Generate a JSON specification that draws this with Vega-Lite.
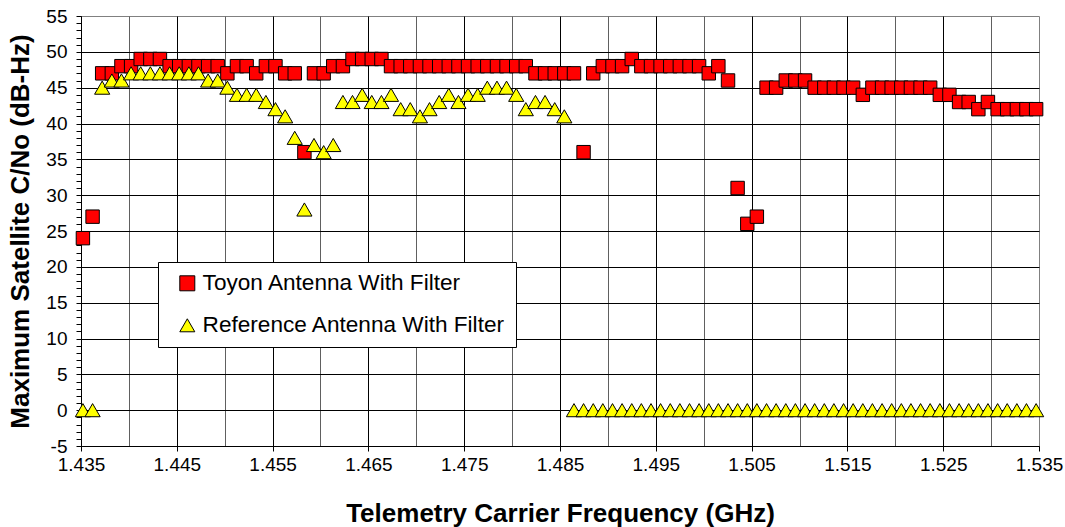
{
  "$schema": "https://vega.github.io/schema/vega-lite/v6.json",
  "width": 958,
  "height": 430,
  "autosize": "none",
  "padding": {"left": 81, "top": 16, "right": 26, "bottom": 81},
  "background": "white",
  "datasets": {
    "toyon": [
      {"f": 1.43520, "v": 24}, {"f": 1.43621, "v": 27}, {"f": 1.43721, "v": 47}, {"f": 1.43822, "v": 47}, {"f": 1.43922, "v": 48},
      {"f": 1.44023, "v": 48}, {"f": 1.44123, "v": 49}, {"f": 1.44224, "v": 49}, {"f": 1.44324, "v": 49}, {"f": 1.44425, "v": 48},
      {"f": 1.44525, "v": 48}, {"f": 1.44626, "v": 48}, {"f": 1.44726, "v": 48}, {"f": 1.44827, "v": 48}, {"f": 1.44927, "v": 48},
      {"f": 1.45028, "v": 47}, {"f": 1.45128, "v": 48}, {"f": 1.45229, "v": 48}, {"f": 1.45329, "v": 47}, {"f": 1.45430, "v": 48},
      {"f": 1.45530, "v": 48}, {"f": 1.45631, "v": 47}, {"f": 1.45731, "v": 47}, {"f": 1.45832, "v": 36}, {"f": 1.45932, "v": 47},
      {"f": 1.46033, "v": 47}, {"f": 1.46133, "v": 48}, {"f": 1.46234, "v": 48}, {"f": 1.46334, "v": 49}, {"f": 1.46435, "v": 49},
      {"f": 1.46535, "v": 49}, {"f": 1.46636, "v": 49}, {"f": 1.46736, "v": 48}, {"f": 1.46837, "v": 48}, {"f": 1.46937, "v": 48},
      {"f": 1.47038, "v": 48}, {"f": 1.47138, "v": 48}, {"f": 1.47239, "v": 48}, {"f": 1.47339, "v": 48}, {"f": 1.47440, "v": 48},
      {"f": 1.47540, "v": 48}, {"f": 1.47641, "v": 48}, {"f": 1.47741, "v": 48}, {"f": 1.47842, "v": 48}, {"f": 1.47942, "v": 48},
      {"f": 1.48043, "v": 48}, {"f": 1.48143, "v": 48}, {"f": 1.48244, "v": 47}, {"f": 1.48344, "v": 47}, {"f": 1.48445, "v": 47},
      {"f": 1.48545, "v": 47}, {"f": 1.48646, "v": 47}, {"f": 1.48746, "v": 36}, {"f": 1.48847, "v": 47}, {"f": 1.48947, "v": 48},
      {"f": 1.49048, "v": 48}, {"f": 1.49148, "v": 48}, {"f": 1.49249, "v": 49}, {"f": 1.49349, "v": 48}, {"f": 1.49450, "v": 48},
      {"f": 1.49550, "v": 48}, {"f": 1.49651, "v": 48}, {"f": 1.49751, "v": 48}, {"f": 1.49852, "v": 48}, {"f": 1.49952, "v": 48},
      {"f": 1.50053, "v": 47}, {"f": 1.50153, "v": 48}, {"f": 1.50254, "v": 46}, {"f": 1.50354, "v": 31}, {"f": 1.50455, "v": 26},
      {"f": 1.50555, "v": 27}, {"f": 1.50656, "v": 45}, {"f": 1.50756, "v": 45}, {"f": 1.50857, "v": 46}, {"f": 1.50957, "v": 46},
      {"f": 1.51058, "v": 46}, {"f": 1.51158, "v": 45}, {"f": 1.51259, "v": 45}, {"f": 1.51359, "v": 45}, {"f": 1.51460, "v": 45},
      {"f": 1.51560, "v": 45}, {"f": 1.51661, "v": 44}, {"f": 1.51761, "v": 45}, {"f": 1.51862, "v": 45}, {"f": 1.51962, "v": 45},
      {"f": 1.52063, "v": 45}, {"f": 1.52163, "v": 45}, {"f": 1.52264, "v": 45}, {"f": 1.52364, "v": 45}, {"f": 1.52465, "v": 44},
      {"f": 1.52565, "v": 44}, {"f": 1.52666, "v": 43}, {"f": 1.52766, "v": 43}, {"f": 1.52867, "v": 42}, {"f": 1.52967, "v": 43},
      {"f": 1.53068, "v": 42}, {"f": 1.53168, "v": 42}, {"f": 1.53269, "v": 42}, {"f": 1.53369, "v": 42}, {"f": 1.53470, "v": 42}
    ],
    "ref": [
      {"f": 1.43520, "v": 0}, {"f": 1.43621, "v": 0}, {"f": 1.43721, "v": 45}, {"f": 1.43822, "v": 46}, {"f": 1.43922, "v": 46},
      {"f": 1.44023, "v": 47}, {"f": 1.44123, "v": 47}, {"f": 1.44224, "v": 47}, {"f": 1.44324, "v": 47}, {"f": 1.44425, "v": 47},
      {"f": 1.44525, "v": 47}, {"f": 1.44626, "v": 47}, {"f": 1.44726, "v": 47}, {"f": 1.44827, "v": 46}, {"f": 1.44927, "v": 46},
      {"f": 1.45028, "v": 45}, {"f": 1.45128, "v": 44}, {"f": 1.45229, "v": 44}, {"f": 1.45329, "v": 44}, {"f": 1.45430, "v": 43},
      {"f": 1.45530, "v": 42}, {"f": 1.45631, "v": 41}, {"f": 1.45731, "v": 38}, {"f": 1.45832, "v": 28}, {"f": 1.45932, "v": 37},
      {"f": 1.46033, "v": 36}, {"f": 1.46133, "v": 37}, {"f": 1.46234, "v": 43}, {"f": 1.46334, "v": 43}, {"f": 1.46435, "v": 44},
      {"f": 1.46535, "v": 43}, {"f": 1.46636, "v": 43}, {"f": 1.46736, "v": 44}, {"f": 1.46837, "v": 42}, {"f": 1.46937, "v": 42},
      {"f": 1.47038, "v": 41}, {"f": 1.47138, "v": 42}, {"f": 1.47239, "v": 43}, {"f": 1.47339, "v": 44}, {"f": 1.47440, "v": 43},
      {"f": 1.47540, "v": 44}, {"f": 1.47641, "v": 44}, {"f": 1.47741, "v": 45}, {"f": 1.47842, "v": 45}, {"f": 1.47942, "v": 45},
      {"f": 1.48043, "v": 44}, {"f": 1.48143, "v": 42}, {"f": 1.48244, "v": 43}, {"f": 1.48344, "v": 43}, {"f": 1.48445, "v": 42},
      {"f": 1.48545, "v": 41}, {"f": 1.48646, "v": 0}, {"f": 1.48746, "v": 0}, {"f": 1.48847, "v": 0}, {"f": 1.48947, "v": 0},
      {"f": 1.49048, "v": 0}, {"f": 1.49148, "v": 0}, {"f": 1.49249, "v": 0}, {"f": 1.49349, "v": 0}, {"f": 1.49450, "v": 0},
      {"f": 1.49550, "v": 0}, {"f": 1.49651, "v": 0}, {"f": 1.49751, "v": 0}, {"f": 1.49852, "v": 0}, {"f": 1.49952, "v": 0},
      {"f": 1.50053, "v": 0}, {"f": 1.50153, "v": 0}, {"f": 1.50254, "v": 0}, {"f": 1.50354, "v": 0}, {"f": 1.50455, "v": 0},
      {"f": 1.50555, "v": 0}, {"f": 1.50656, "v": 0}, {"f": 1.50756, "v": 0}, {"f": 1.50857, "v": 0}, {"f": 1.50957, "v": 0},
      {"f": 1.51058, "v": 0}, {"f": 1.51158, "v": 0}, {"f": 1.51259, "v": 0}, {"f": 1.51359, "v": 0}, {"f": 1.51460, "v": 0},
      {"f": 1.51560, "v": 0}, {"f": 1.51661, "v": 0}, {"f": 1.51761, "v": 0}, {"f": 1.51862, "v": 0}, {"f": 1.51962, "v": 0},
      {"f": 1.52063, "v": 0}, {"f": 1.52163, "v": 0}, {"f": 1.52264, "v": 0}, {"f": 1.52364, "v": 0}, {"f": 1.52465, "v": 0},
      {"f": 1.52565, "v": 0}, {"f": 1.52666, "v": 0}, {"f": 1.52766, "v": 0}, {"f": 1.52867, "v": 0}, {"f": 1.52967, "v": 0},
      {"f": 1.53068, "v": 0}, {"f": 1.53168, "v": 0}, {"f": 1.53269, "v": 0}, {"f": 1.53369, "v": 0}, {"f": 1.53470, "v": 0}
    ]
  },
  "encoding": {
    "x": {
      "field": "f",
      "type": "quantitative",
      "scale": {"domain": [1.435, 1.535], "nice": false, "zero": false},
      "axis": {
        "values": [1.435, 1.44, 1.445, 1.45, 1.455, 1.46, 1.465, 1.47, 1.475, 1.48, 1.485, 1.49, 1.495, 1.5, 1.505, 1.51, 1.515, 1.52, 1.525, 1.53, 1.535],
        "format": ".3f",
        "labelExpr": "round(datum.value*1000) % 10 == 5 ? datum.label : ''",
        "labelFlush": false,
        "labelOverlap": false,
        "tickOpacity": {"condition": {"test": "round(datum.value*1000) % 10 == 5", "value": 1}, "value": 0},
        "gridOpacity": {"condition": {"test": "datum.value > 1.534", "value": 0}, "value": 1},
        "gridColor": {"condition": {"test": "round(datum.value*1000) % 10 == 5", "value": "#000000"}, "value": "#606060"},
        "title": "Telemetry Carrier Frequency (GHz)",
        "titleY": 67,
        "titleBaseline": "middle",
        "labelPadding": 4
      }
    },
    "y": {
      "field": "v",
      "type": "quantitative",
      "scale": {"domain": [-5, 55], "nice": false, "zero": false},
      "axis": {
        "values": [-5, -4, -3, -2, -1, 0, 1, 2, 3, 4, 5, 6, 7, 8, 9, 10, 11, 12, 13, 14, 15, 16, 17, 18, 19, 20, 21, 22, 23, 24, 25, 26, 27, 28, 29, 30, 31, 32, 33, 34, 35, 36, 37, 38, 39, 40, 41, 42, 43, 44, 45, 46, 47, 48, 49, 50, 51, 52, 53, 54, 55],
        "labelExpr": "datum.value % 5 == 0 ? '' + datum.value : ''",
        "labelOverlap": false,
        "labelFlush": false,
        "gridOpacity": {"condition": {"test": "datum.value % 5 == 0 && datum.value < 54", "value": 1}, "value": 0},
        "gridColor": "#000000",
        "title": "Maximum Satellite C/No (dB-Hz)",
        "titleX": -61,
        "titleBaseline": "middle",
        "labelPadding": 9
      }
    }
  },
  "layer": [
    {
      "data": {"name": "toyon"},
      "mark": {"type": "point", "filled": true, "size": 180, "stroke": "#000000", "strokeWidth": 1, "opacity": 1},
      "encoding": {
        "color": {
          "datum": "Toyon Antenna With Filter",
          "type": "nominal",
          "scale": {"domain": ["Toyon Antenna With Filter", "Reference Antenna With Filter"], "range": ["#FF0000", "#FFFF00"]},
          "legend": {"encode": {"symbols": {"update": {"size": {"value": 225}, "stroke": {"value": "#000000"}, "strokeWidth": {"value": 1}, "opacity": {"value": 1}}}}}
        },
        "shape": {"datum": "Toyon Antenna With Filter", "type": "nominal", "scale": {"domain": ["Toyon Antenna With Filter", "Reference Antenna With Filter"], "range": ["square", "triangle-up"]}}
      }
    },
    {
      "data": {"name": "ref"},
      "mark": {"type": "point", "filled": true, "size": 230, "stroke": "#000000", "strokeWidth": 1, "opacity": 1},
      "encoding": {
        "color": {"datum": "Reference Antenna With Filter", "type": "nominal"},
        "shape": {"datum": "Reference Antenna With Filter", "type": "nominal"}
      }
    }
  ],
  "config": {
    "font": "Liberation Sans",
    "view": {"stroke": "#808080", "strokeWidth": 1},
    "axis": {
      "grid": true,
      "gridWidth": 1,
      "domainColor": "#000000",
      "domainWidth": 1,
      "tickColor": "#000000",
      "tickSize": 5,
      "tickWidth": 1,
      "labelFont": "Liberation Sans",
      "labelFontSize": 19,
      "labelColor": "#000000",
      "titleFont": "Liberation Sans",
      "titleFontSize": 26,
      "titleFontWeight": "bold",
      "titleColor": "#000000"
    },
    "legend": {
      "orient": "none",
      "legendX": 77,
      "legendY": 246,
      "title": null,
      "padding": 10,
      "strokeColor": "#000000",
      "fillColor": "#FFFFFF",
      "labelFont": "Liberation Sans",
      "labelFontSize": 22.6,
      "labelColor": "#000000",
      "labelLimit": 400,
      "symbolSize": 225,
      "symbolStrokeColor": "#000000",
      "symbolStrokeWidth": 1,
      "symbolOpacity": 1,
      "rowPadding": 19,
      "symbolOffset": 8,
      "labelOffset": 4
    }
  }
}
